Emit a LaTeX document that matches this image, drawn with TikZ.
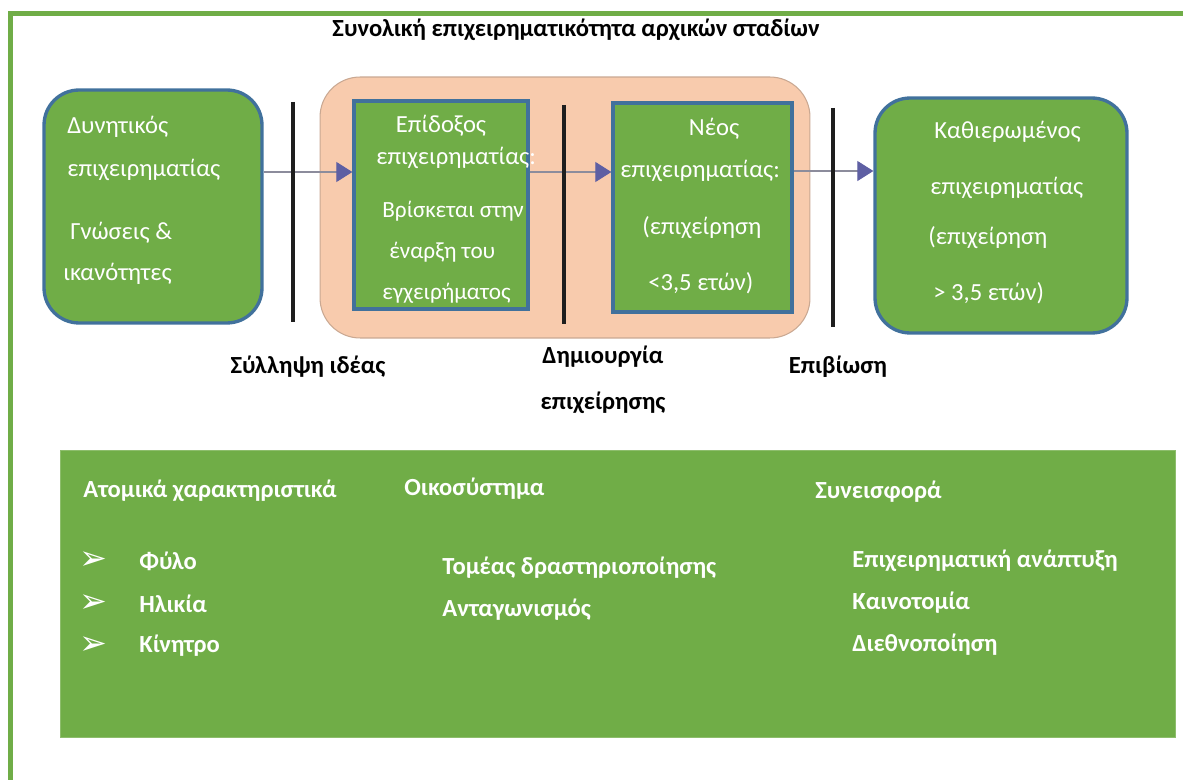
\documentclass[tikz,border=0pt]{standalone}
\usepackage{fontspec}
\setmainfont{Carlito}
\newfontfamily\symfont{DejaVu Sans}
\usetikzlibrary{arrows.meta,calc}
\definecolor{gfill}{HTML}{70AD47}
\definecolor{bline}{HTML}{41719C}
\definecolor{peach}{HTML}{F8CBAD}
\definecolor{peachline}{HTML}{C9A892}
\definecolor{tipc}{HTML}{5E5FA3}
\definecolor{linec}{HTML}{8C8C9C}
\definecolor{barc}{HTML}{1E1E1E}
\begin{document}
\begin{tikzpicture}[x=0.02cm,y=-0.02cm,
  stagebox/.style={draw=bline,line width=1.9pt,fill=gfill,inner sep=0pt},
  roundbox/.style={stagebox,rounded corners=0.7cm},
  peachbox/.style={draw=peachline,line width=0.6pt,fill=peach,rounded corners=0.8cm,inner sep=0pt},
  panel/.style={fill=gfill,draw=gfill!80!white,line width=0.5pt,inner sep=0pt},
  frameline/.style={draw=gfill,line width=2.6pt},
  bar/.style={draw=barc,line width=2.8pt},
  conn/.style={draw=linec,line width=0.6pt,-{Triangle[length=0.32cm,width=0.4cm,color=tipc,fill=tipc]}},
  wtext/.style={text=white,font=\fontsize{14}{17}\selectfont,inner sep=0pt},
  ltext/.style={wtext,anchor=west},
  stext/.style={ltext,font=\fontsize{13.2}{16}\selectfont},
  btext/.style={text=black,font=\bfseries\fontsize{14}{17}\selectfont,inner sep=0pt},
  pbold/.style={text=white,font=\bfseries\fontsize{14}{17}\selectfont,inner sep=0pt,anchor=west},
  bullet/.style={text=white,font=\symfont\fontsize{19}{22}\selectfont,inner sep=0pt}
]
\useasboundingbox (0,0) rectangle (1183,780);
% frame
\coordinate (fTR) at (1183,13.5);
\coordinate (fTL) at (10.5,13.5);
\coordinate (fBL) at (10.5,780);
\draw[frameline] (fTR) -- (fTL) -- (fBL);
% title
\node[btext] (title) at (576,30) {Συνολική επιχειρηματικότητα αρχικών σταδίων};
% boxes
\node[peachbox,minimum width=9.8cm,minimum height=5.22cm] (peach) at (565,207.5) {};
\node[roundbox,minimum width=4.36cm,minimum height=4.66cm] (b1) at (153,206.5) {};
\node[stagebox,minimum width=3.48cm,minimum height=4.16cm] (b2) at (441,205) {};
\node[stagebox,minimum width=3.58cm,minimum height=4.18cm] (b3) at (702.5,207.5) {};
\node[roundbox,minimum width=5.04cm,minimum height=4.7cm] (b4) at (1001,215.5) {};
% connectors
\coordinate (a2) at ([yshift=0.66cm]b2.west);
\coordinate (a3) at ([yshift=0.71cm]b3.west);
\coordinate (a4) at ([yshift=0.89cm]b4.west);
\draw[conn] (a2 -| b1.east) -- (a2);
\draw[conn] (a3 -| b2.east) -- (a3);
\draw[conn] (a4 -| b3.east) -- (a4);
% bars
\coordinate (bar1t) at (293,102); \coordinate (bar1b) at (293,322);
\coordinate (bar2t) at (564,105); \coordinate (bar2b) at (564,324);
\coordinate (bar3t) at (833,108); \coordinate (bar3b) at (833,327);
\draw[bar] (bar1t) -- (bar1b);
\draw[bar] (bar2t) -- (bar2b);
\draw[bar] (bar3t) -- (bar3b);
% box texts
\node[ltext] (t1a) at (67,127) {Δυνητικός};
\node[ltext] (t1b) at (67,170) {επιχειρηματίας};
\node[ltext] (t1c) at (70,233) {Γνώσεις \&};
\node[ltext] (t1d) at (63,274) {ικανότητες};
\node[wtext] (t2a) at (441,126) {Επίδοξος};
\node[ltext] (t2b) at (376,158) {επιχειρηματίας:};
\node[stext] (t2c) at (382,211) {Βρίσκεται στην};
\node[stext] (t2d) at (389,252) {έναρξη του};
\node[stext] (t2e) at (382,293) {εγχειρήματος};
\node[wtext] (t3a) at (714,129) {Νέος};
\node[ltext] (t3b) at (620,171) {επιχειρηματίας:};
\node[ltext] (t3c) at (642,228) {(επιχείρηση};
\node[ltext] (t3d) at (648,283) {<3,5 ετών)};
\node[ltext] (t4a) at (934,132) {Καθιερωμένος};
\node[ltext] (t4b) at (930,188) {επιχειρηματίας};
\node[ltext] (t4c) at (928,238) {(επιχείρηση};
\node[ltext] (t4d) at (933,293) {> 3,5 ετών)};
% stage labels
\node[btext] (l1) at (308,367) {Σύλληψη ιδέας};
\node[btext] (l2a) at (603,357) {Δημιουργία};
\node[btext] (l2b) at (603,403) {επιχείρησης};
\node[btext] (l3) at (838,367) {Επιβίωση};
% bottom panel
\node[panel,minimum width=22.32cm,minimum height=5.74cm] (panel) at (618,593.5) {};
\node[pbold] (h1) at (83,491) {Ατομικά χαρακτηριστικά};
\node[pbold] (h2) at (404,489) {Οικοσύστημα};
\node[pbold] (h3) at (815,492) {Συνεισφορά};
\node[bullet] (u1) at (93,561) {➢};
\node[bullet] (u2) at (93,604) {➢};
\node[bullet] (u3) at (93,646) {➢};
\node[pbold] (i1) at (139,561) {Φύλο};
\node[pbold] (i2) at (139,604) {Ηλικία};
\node[pbold] (i3) at (139,646) {Κίνητρο};
\node[pbold] (e1) at (442,568) {Τομέας δραστηριοποίησης};
\node[pbold] (e2) at (442,610) {Ανταγωνισμός};
\node[pbold] (c1) at (852,561) {Επιχειρηματική ανάπτυξη};
\node[pbold] (c2) at (852,603) {Καινοτομία};
\node[pbold] (c3) at (852,645) {Διεθνοποίηση};
\end{tikzpicture}
\end{document}
